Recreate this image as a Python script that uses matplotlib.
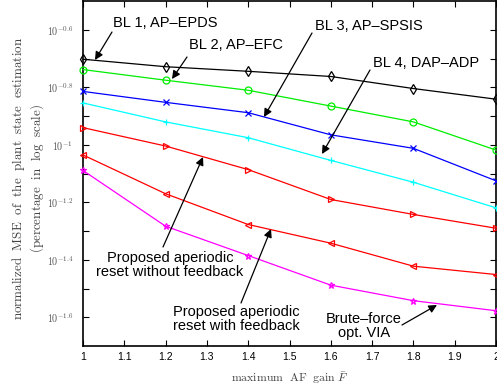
import matplotlib
matplotlib.use('Agg')
import numpy as np
import matplotlib.pyplot as plt

plt.rcParams['mathtext.fontset'] = 'cm'
plt.rcParams['font.family'] = ['Liberation Sans', 'DejaVu Sans']

# x axis: maximum AF gain
gain = [1.0, 1.2, 1.4, 1.6, 1.8, 2.0]

# log10 of normalized MSE
bl1_epds = [-0.702, -0.728, -0.744, -0.762, -0.804, -0.841]
bl2_efc = [-0.738, -0.775, -0.810, -0.865, -0.920, -1.018]
bl3_spsis = [-0.814, -0.852, -0.888, -0.965, -1.012, -1.125]
bl4_adp = [-0.854, -0.920, -0.975, -1.054, -1.130, -1.219]
prop_nofb = [-0.940, -1.004, -1.086, -1.190, -1.242, -1.290]
prop_fb = [-1.035, -1.170, -1.277, -1.342, -1.422, -1.451]
brute_via = [-1.089, -1.283, -1.385, -1.488, -1.542, -1.577]

series = [
    (bl1_epds, 'k', 'd'),
    (bl2_efc, '#00ee00', 'o'),
    (bl3_spsis, '#0000ff', 'x'),
    (bl4_adp, '#00ffff', '+'),
    (prop_nofb, '#ff0000', '>'),
    (prop_fb, '#ff0000', '<'),
    (brute_via, '#ff00ff', '*'),
]

fig = plt.figure(figsize=(4.97, 3.88), dpi=100)
ax = fig.add_axes([0.167, 0.108, 0.831, 0.889])
ax.set_yscale('log')

for vals, col, mk in series:
    ax.plot(gain, 10 ** np.array(vals), color=col, marker=mk, lw=0.9,
            ms=5, mfc='none', mew=0.9, clip_on=False, zorder=3)

ax.set_xlim(1, 2)
ax.set_ylim(10 ** -1.7, 10 ** -0.5)

ax.set_xticks(np.arange(1, 2.01, 0.1))
ax.set_xticklabels(['1', '1.1', '1.2', '1.3', '1.4', '1.5', '1.6', '1.7', '1.8', '1.9', '2'])
ax.yaxis.set_minor_locator(matplotlib.ticker.NullLocator())
exps = np.arange(-1.6, -0.55, 0.1)
ax.set_yticks(10 ** exps)
ylabs = []
for i, e in enumerate(exps):
    if i % 2 == 0:
        ylabs.append(r'$10^{%g}$' % round(e, 1))
    else:
        ylabs.append('')
ax.set_yticklabels(ylabs)

ax.tick_params(direction='in', top=True, right=True, length=4, width=0.8)
ax.tick_params(axis='x', labelsize=7.5, pad=4)
ax.tick_params(axis='y', labelsize=7.2, pad=7, labelcolor='#555555')
for s in ax.spines.values():
    s.set_linewidth(1.2)

ax.set_xlabel(r'$\mathrm{maximum\ \ AF\ \ gain}\ \bar{F}$', fontsize=8.5, color='#444444', labelpad=6)
ax.set_ylabel(r'$\mathrm{normalized\ \ MSE\ \ of\ \ the\ \ plant\ \ state\ \ estimation}$' + '\n'
              + r'$\mathrm{(percentage\ \ in\ \ log\ \ scale)}$',
              fontsize=9.4, color='#444444', linespacing=1.12)
ax.yaxis.set_label_coords(-0.09, 0.487)


def px(x, y):
    # pixel position in the figure -> figure fraction
    return (x / 497.0, 1 - y / 388.0)


def note(text, tail, head, tpos, ha='left'):
    fig.text(*px(*tpos), text, ha=ha, va='center', fontsize=10.5, linespacing=1.05)
    ax.annotate('', xy=px(*head), xycoords='figure fraction',
                xytext=px(*tail), textcoords='figure fraction',
                arrowprops=dict(arrowstyle='-|>', color='k', lw=0.9,
                                mutation_scale=12, shrinkA=0, shrinkB=0))


note('BL 1, AP\u2013EPDS', (112, 32), (95, 60), (113, 23))
note('BL 2, AP\u2013EFC', (187, 57), (172, 79), (189, 45))
note('BL 3, AP\u2013SPSIS', (312, 33), (264, 117), (315, 26))
note('BL 4, DAP\u2013ADP', (370, 70), (322, 154), (373, 63))
note('Proposed aperiodic\nreset without feedback', (163, 247), (203, 157), (170, 265), ha='center')
note('Proposed aperiodic\nreset with feedback', (241, 303), (271, 229), (236, 319), ha='center')
note('Brute\u2013force\nopt. VIA', (402, 325), (437, 305), (364, 326), ha='center')

fig.savefig('out.png', dpi=100)
